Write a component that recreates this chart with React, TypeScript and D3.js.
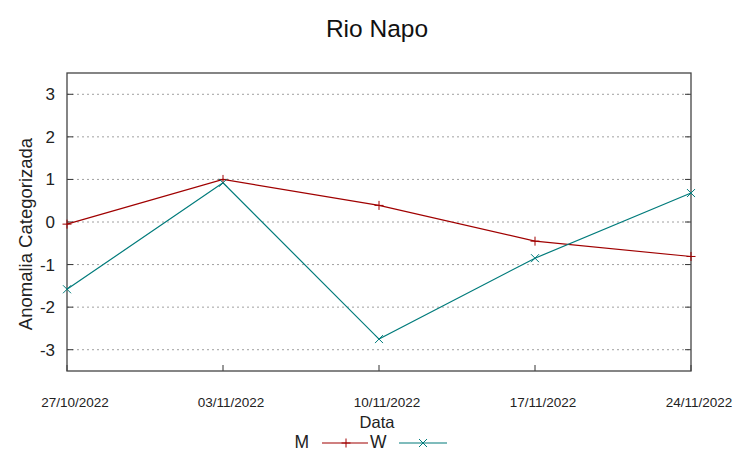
import React from "react";
import * as d3 from "d3";

const dates = ["27/10/2022", "03/11/2022", "10/11/2022", "17/11/2022", "24/11/2022"];
const seriesM = [-0.05, 1.0, 0.39, -0.45, -0.81];
const seriesW = [-1.58, 0.92, -2.75, -0.85, 0.68];
const yTicks = [-3, -2, -1, 0, 1, 2, 3];

const W = 753, H = 459;
const left = 67, right = 691, top = 73, bottom = 371;
const colM = "#a00000";
const colW = "#007b7b";
const font = "'Liberation Sans', Arial, sans-serif";

export default function App() {
  const x = d3.scalePoint<string>().domain(dates).range([left, right]);
  const y = d3.scaleLinear().domain([-3.5, 3.5]).range([bottom, top]);
  const line = d3.line<number>().x((_, i) => x(dates[i])!).y((v) => y(v));
  const plus = (cx: number, cy: number, c: string, k: string) => (
    <g key={k} stroke={c} strokeWidth={1}>
      <line x1={cx - 4.5} x2={cx + 4.5} y1={cy} y2={cy} />
      <line x1={cx} x2={cx} y1={cy - 4.5} y2={cy + 4.5} />
    </g>
  );
  const cross = (cx: number, cy: number, c: string, k: string) => (
    <g key={k} stroke={c} strokeWidth={1}>
      <line x1={cx - 4} x2={cx + 4} y1={cy - 4} y2={cy + 4} />
      <line x1={cx - 4} x2={cx + 4} y1={cy + 4} y2={cy - 4} />
    </g>
  );
  return (
    <svg width={W} height={H} style={{ position: "absolute", left: 0, top: 0 }} fontFamily={font}>
      <rect width={W} height={H} fill="#fff" />
      {yTicks.map((t) => (
        <g key={t}>
          <line x1={left} x2={right} y1={y(t)} y2={y(t)} stroke="#a0a0a0" strokeDasharray="2,3" strokeWidth={1} />
          <line x1={left} x2={left + 6} y1={y(t)} y2={y(t)} stroke="#333" />
          <line x1={right - 6} x2={right} y1={y(t)} y2={y(t)} stroke="#333" />
          <text x={left - 12} y={y(t) + 6} textAnchor="end" fontSize={17} fill="#222">{t}</text>
        </g>
      ))}
      {dates.map((d) => (
        <g key={d}>
          <line x1={x(d)!} x2={x(d)!} y1={bottom} y2={bottom - 6} stroke="#333" />
          <text x={x(d)! + 8} y={407} textAnchor="middle" fontSize={13.5} fill="#222">{d}</text>
        </g>
      ))}
      <rect x={left} y={top} width={right - left} height={bottom - top} fill="none" stroke="#444" strokeWidth={1.3} />
      <path d={line(seriesM)!} fill="none" stroke={colM} strokeWidth={1.2} />
      <path d={line(seriesW)!} fill="none" stroke={colW} strokeWidth={1.2} />
      {seriesM.map((v, i) => plus(x(dates[i])!, y(v), colM, "m" + i))}
      {seriesW.map((v, i) => cross(x(dates[i])!, y(v), colW, "w" + i))}
      <text x={377} y={37} textAnchor="middle" fontSize={24.5} fill="#111">Rio Napo</text>
      <text x={377} y={428} textAnchor="middle" fontSize={16.5} fill="#222">Data</text>
      <text transform={`translate(31.5,${(top + bottom) / 2 + 12}) rotate(-90)`} textAnchor="middle" fontSize={18.5} fill="#222">Anomalia Categorizada</text>
      <text x={309} y={448} textAnchor="end" fontSize={17.5} fill="#222">M</text>
      <line x1={322} x2={368} y1={443} y2={443} stroke={colM} strokeWidth={1.2} />
      {plus(346, 443, colM, "lm")}
      <text x={370} y={448} fontSize={17.5} fill="#222">W</text>
      <line x1={399} x2={447} y1={443} y2={443} stroke={colW} strokeWidth={1.2} />
      {cross(423, 443, colW, "lw")}
    </svg>
  );
}
